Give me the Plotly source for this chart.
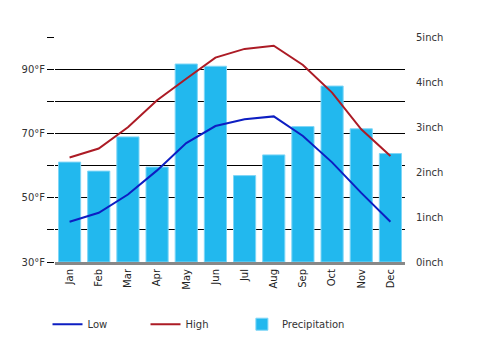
import plotly.graph_objects as go

months = ["Jan", "Feb", "Mar", "Apr", "May", "Jun", "Jul", "Aug", "Sep", "Oct", "Nov", "Dec"]
low_f = [42.5, 45.3, 51, 58.5, 67, 72.3, 74.4, 75.3, 69.2, 61, 51.5, 42.5]
high_f = [62.5, 65.3, 71.9, 80.3, 87, 93.6, 96.3, 97.3, 91.3, 82.7, 71.3, 63]
precip_in = [2.22, 2.02, 2.78, 2.11, 4.40, 4.35, 1.92, 2.38, 3.01, 3.91, 2.96, 2.41]

temp_ticks = [30, 40, 50, 60, 70, 80, 90, 100]
temp_text = ["30°F", "", "50°F", "", "70°F", "", "90°F", ""]

FONT = "DejaVu Sans"

fig = go.Figure()
fig.add_trace(go.Scatter(
    x=months, y=low_f, name="Low", mode="lines", yaxis="y2",
    line=dict(color="#0d1ec2", width=2), legend="legend",
))
fig.add_trace(go.Scatter(
    x=months, y=high_f, name="High", mode="lines", yaxis="y2",
    line=dict(color="#ac1b25", width=2), legend="legend",
))
fig.add_trace(go.Bar(
    x=months, y=precip_in, name="Precipitation", yaxis="y",
    marker=dict(color="#22b8ee", line=dict(color="#7ed6f7", width=1)),
    legend="legend2",
))

legend_font = dict(family=FONT, size=10, color="#333333")

fig.update_layout(
    width=477, height=352,
    margin=dict(l=55, r=72, t=37, b=90, autoexpand=False),
    paper_bgcolor="white", plot_bgcolor="white",
    font=dict(family=FONT, size=10, color="#333333"),
    bargap=0.24,
    showlegend=True,
    legend=dict(
        orientation="h", x=-0.0214, xanchor="left", y=-0.212, yanchor="top",
        traceorder="normal", itemwidth=30,
        entrywidth=53, entrywidthmode="pixels", font=legend_font,
    ),
    legend2=dict(
        orientation="h", x=0.534, xanchor="left", y=-0.212, yanchor="top",
        itemwidth=30, font=legend_font,
    ),
    xaxis=dict(
        tickangle=-90, showline=True, linecolor="#888888", linewidth=3,
        showgrid=False, ticks="", tickfont=dict(size=10, color="#222222"),
        automargin=False,
    ),
    yaxis=dict(
        range=[0, 5], dtick=1, ticksuffix="inch", side="right",
        showgrid=False, zeroline=False, showline=False, ticks="outside",
        ticklen=8, tickcolor="rgba(0,0,0,0)", automargin=False,
    ),
    yaxis2=dict(
        range=[30, 100], tickvals=temp_ticks, ticktext=temp_text,
        overlaying="y", side="left",
        showgrid=True, gridcolor="black", gridwidth=1,
        ticks="outside", ticklen=7, tickcolor="black", tickwidth=1,
        zeroline=False, showline=False, automargin=False,
    ),
)
fig.write_html("out.html")
